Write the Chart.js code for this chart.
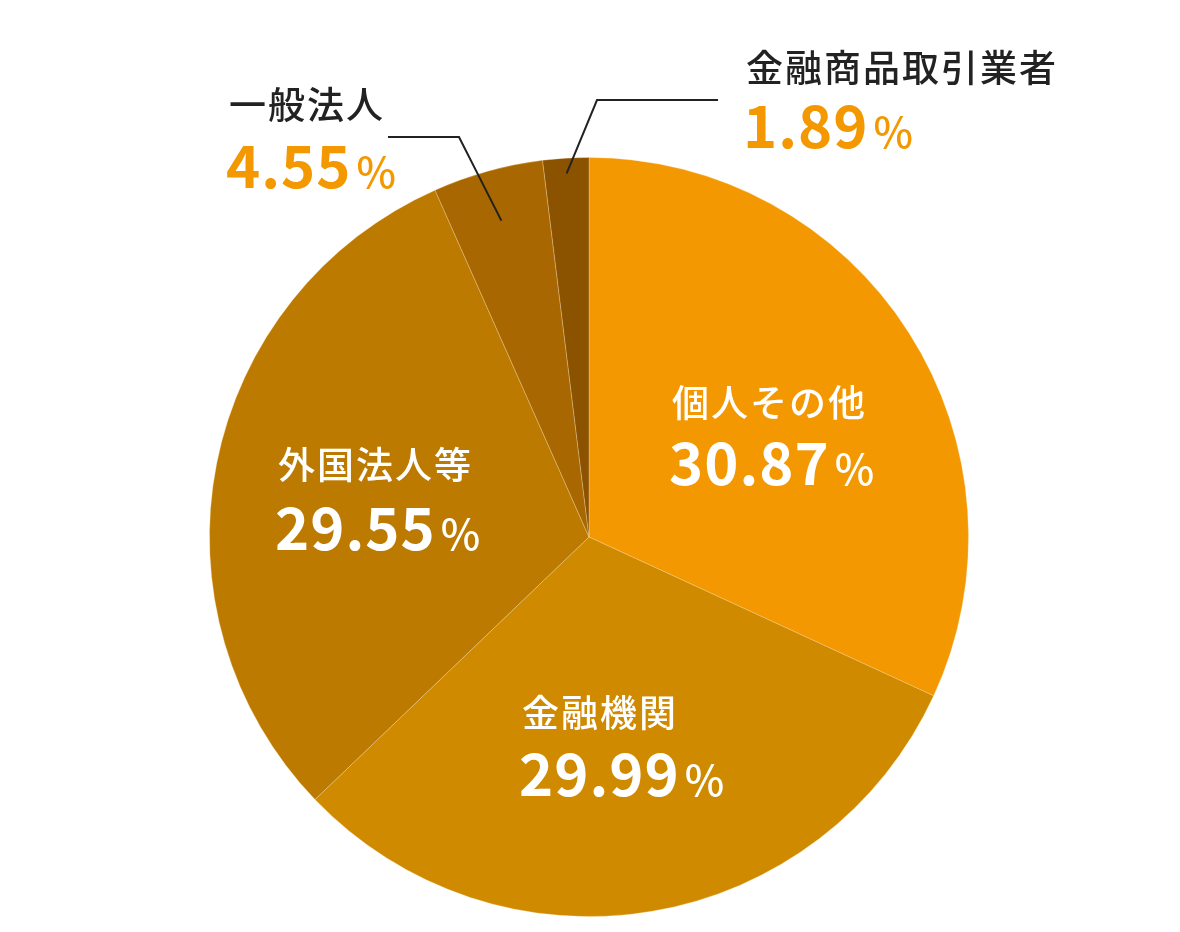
<!DOCTYPE html>
<html><head><meta charset="utf-8">
<script src="https://cdn.jsdelivr.net/npm/chart.js@4.4.1/dist/chart.umd.min.js"></script>
<style>html,body{margin:0;padding:0;background:#fff;}#wrap{width:1180px;height:932px;position:relative;}</style>
</head><body><div id="wrap"><canvas id="c" width="1180" height="932"></canvas></div>
<script>
const categories = ['個人その他','金融機関','外国法人等','一般法人','金融商品取引業者'];
const values = [30.87, 29.99, 29.55, 4.55, 1.89];
const colors = ['#F39800','#CF8A00','#BC7A00','#A86700','#8B5200'];

const FONT = '"Noto Sans CJK JP","Noto Sans",sans-serif';
// label layout (offsets relative to pie center)
const layoutCfg = [
  {x: 83,  cy: -134, by: -52, color:'#fff', numColor:'#fff'},
  {x: -67, cy: 176,  by: 259, color:'#fff', numColor:'#fff'},
  {x: -311,cy: -72,  by: 13,  color:'#fff', numColor:'#fff'},
  {x: -360,cy: -432, by: -349,color:'#222', numColor:'#F39800', line:{rf:0.865, corner:[-130,-400], end:[-201,-400]}},
  {x: 157, cy: -469, by: -389,color:'#222', numColor:'#F39800', line:{rf:0.96, corner:[8,-437], end:[129,-437]}}
];

const labelPlugin = {
  id:'labels',
  afterDatasetsDraw(chart){
    const ctx = chart.ctx;
    const meta = chart.getDatasetMeta(0);
    const a0 = meta.data[0];
    const cx = a0.x, cy = a0.y, R = a0.outerRadius;
    meta.data.forEach((arc,i)=>{
      const L = layoutCfg[i];
      ctx.save();
      if (L.line){
        const mid = (arc.startAngle + arc.endAngle)/2;
        const px = cx + Math.cos(mid)*R*L.line.rf;
        const py = cy + Math.sin(mid)*R*L.line.rf;
        ctx.strokeStyle = '#222';
        ctx.lineWidth = 2;
        ctx.beginPath();
        ctx.moveTo(px,py);
        ctx.lineTo(cx+L.line.corner[0], cy+L.line.corner[1]);
        ctx.lineTo(cx+L.line.end[0], cy+L.line.end[1]);
        ctx.stroke();
      }
      ctx.textAlign='left';
      ctx.textBaseline='middle';
      ctx.fillStyle=L.color;
      ctx.font = '500 37px ' + FONT;
      ctx.letterSpacing = '2px';
      ctx.fillText(categories[i], cx+L.x, cy+L.cy);
      ctx.textBaseline='alphabetic';
      ctx.fillStyle=L.numColor;
      ctx.font = 'bold 58px ' + FONT;
      ctx.letterSpacing = '1px';
      const t = values[i].toFixed(2);
      ctx.fillText(t, cx+L.x-3, cy+L.by);
      const w = ctx.measureText(t).width;
      ctx.font = '500 42px ' + FONT;
      ctx.letterSpacing = '0px';
      ctx.fillText('%', cx+L.x-3+w+5, cy+L.by);
      ctx.restore();
    });
  }
};

new Chart(document.getElementById('c'),{
  type:'pie',
  data:{labels:categories,datasets:[{data:values,backgroundColor:colors,borderColor:'rgba(255,230,180,0.3)',borderWidth:1}]},
  options:{
    responsive:false,animation:false,
    layout:{padding:{top:157,bottom:15,left:209,right:211}},
    plugins:{legend:{display:false},tooltip:{enabled:false}}
  },
  plugins:[labelPlugin]
});
</script></body></html>
